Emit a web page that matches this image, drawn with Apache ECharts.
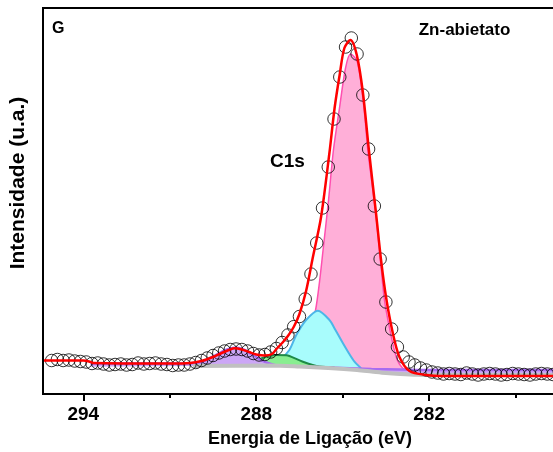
<!DOCTYPE html>
<html>
<head>
<meta charset="utf-8">
<script src="https://cdn.jsdelivr.net/npm/echarts@6/dist/echarts.min.js"></script>
<style>
  html, body { margin: 0; padding: 0; background: #fff; }
  #chart { width: 553px; height: 452px; }
</style>
</head>
<body>
<div id="chart"></div>
<script>
// energia de ligação (eV) dos pontos medidos
const bindingEnergy = [
  295.1, 294.9, 294.7, 294.5, 294.3, 294.1, 293.9, 293.7, 293.5, 293.3,
  293.1, 292.9, 292.7, 292.5, 292.3, 292.1, 291.9, 291.7, 291.5, 291.3,
  291.1, 290.9, 290.7, 290.5, 290.3, 290.1, 289.9, 289.7, 289.5, 289.3,
  289.1, 288.9, 288.7, 288.5, 288.3, 288.1, 287.9, 287.7, 287.5, 287.3,
  287.1, 286.9, 286.7, 286.5, 286.3, 286.1, 285.9, 285.7, 285.5, 285.3,
  285.1, 284.9, 284.7, 284.5, 284.3, 284.1, 283.9, 283.7, 283.5, 283.3,
  283.1, 282.9, 282.7, 282.5, 282.3, 282.1, 281.9, 281.7, 281.5, 281.3,
  281.1, 280.9, 280.7, 280.5, 280.3, 280.1, 279.9, 279.7, 279.5, 279.3,
  279.1, 278.9, 278.7, 278.5, 278.3, 278.1, 277.9, 277.7
];
// intensidade medida (u.a.)
const intensity = [
  33.5, 34.5, 33.5, 34, 33, 32.5, 32, 30.5, 31, 30,
  29, 29.5, 30, 29, 29.5, 31, 30, 30.5, 31, 30,
  29.5, 28.5, 29, 29, 30, 31.5, 33.5, 36, 38.5, 41,
  43, 44.5, 45, 44.5, 43, 40.5, 39, 39.5, 42, 45.5,
  51.5, 59, 67.3, 77.5, 95, 120, 151, 186, 227, 275,
  317, 347, 356, 340, 299, 245, 188, 135, 92, 65,
  47, 37, 32, 29, 26, 24, 22, 21, 20, 20.5,
  20, 19.5, 21, 20, 19, 20, 20.5, 20, 19, 19.5,
  20.5, 20, 19.5, 19, 20, 20.5, 20, 19.5
];

// envelope do ajuste [eV, intensidade]
const fitSum = [
  [295.4, 33.5], [294.0, 33.5], [293.8, 32.5], [293.65, 31], [291.0, 30.5], [290.3, 31],
  [289.9, 33], [289.5, 37], [289.2, 41], [288.95, 44], [288.75, 45.7], [288.5, 44.5],
  [288.25, 42], [288.0, 39.5], [287.7, 38.5], [287.45, 40], [287.3, 45], [287.1, 51],
  [286.9, 58], [286.7, 67], [286.5, 80], [286.27, 103], [286.04, 136], [285.75, 177],
  [285.46, 241], [285.28, 286], [285.1, 320], [284.94, 346], [284.73, 354], [284.51, 339],
  [284.30, 302], [284.09, 244], [283.84, 180], [283.66, 132], [283.49, 96], [283.26, 61],
  [283.03, 37], [282.68, 23], [282.10, 19], [281.5, 18], [277.5, 18]
];
// C-C / C-H (rosa)
const peakCC = [
  [286.98, 26], [286.64, 29], [286.36, 39], [286.15, 59], [285.94, 84], [285.80, 113],
  [285.68, 144], [285.49, 194], [285.32, 244], [285.11, 286], [284.90, 326], [284.73, 340],
  [284.49, 332], [284.26, 286], [284.12, 242], [283.86, 183], [283.67, 128], [283.55, 94],
  [283.38, 67], [283.14, 37], [282.92, 26], [282.68, 24]
];
// C-O (ciano)
const peakCO = [
  [287.54, 31], [287.13, 36], [286.85, 44], [286.61, 59], [286.27, 74], [285.86, 83.3],
  [285.46, 74], [285.25, 64], [284.99, 50.7], [284.79, 41], [284.59, 32.3], [284.36, 25.7]
];
// C=O (verde)
const peakCeqO = [
  [288.2, 28], [287.83, 35.7], [287.31, 39], [286.96, 38.7], [286.85, 38], [286.38, 32.3],
  [286.04, 29], [285.80, 27.5], [285.28, 26.5]
];
// O-C=O (lilás)
const peakOCeqO = [
  [293.75, 30.5], [292.0, 30.5], [290.5, 30.5], [290.0, 31.5], [289.7, 34.5], [289.4, 39],
  [289.1, 43.5], [288.9, 45.5], [288.75, 46.3], [288.6, 46], [288.4, 44], [288.2, 40.5],
  [288.0, 37], [287.8, 33.5], [287.6, 31], [287.3, 28.5], [287.0, 27.5], [286.0, 27],
  [285.0, 26], [284.0, 25], [283.0, 24.5], [282.0, 24], [277.5, 24]
];
// fundo (Shirley)
const background = [
  [290.2, 28], [287.5, 28.5], [286.5, 27.5], [285.5, 26], [284.5, 24], [284.0, 22.5],
  [283.5, 21], [283.0, 20], [282.4, 19.2], [281.8, 19], [277.5, 19]
];
const bgLeft = [[295.6, 27], [290.2, 28]];

const majorTicks = [294, 288, 282];
const minorTicks = [291, 285, 279];

const font = "'Liberation Sans', Arial, sans-serif";

const chart = echarts.init(document.getElementById('chart'));

function component(data, line, fill, width, z) {
  return {
    type: 'line',
    data: data,
    smooth: 0.3,
    symbol: 'none',
    z: z,
    lineStyle: { color: line, width: width },
    areaStyle: { color: fill, opacity: 1, origin: 'start' },
    animation: false
  };
}

const measured = bindingEnergy.map(function (e, i) { return [e, intensity[i]]; });

const option = {
  animation: false,
  grid: {
    left: 43, top: 8, right: -49, bottom: 58,
    show: true, borderColor: '#000', borderWidth: 2,
    outerBoundsMode: 'none'
  },
  xAxis: [
    {
      type: 'value', inverse: true, min: 276, max: 295.4,
      axisLine: { lineStyle: { color: '#000', width: 2 } },
      axisTick: { customValues: majorTicks, length: 7, lineStyle: { color: '#000', width: 2 } },
      axisLabel: {
        customValues: majorTicks, color: '#000', fontSize: 19, fontWeight: 'bold',
        fontFamily: font, margin: 11
      },
      splitLine: { show: false },
      z: 10
    },
    {
      type: 'value', inverse: true, min: 276, max: 295.4, position: 'bottom', offset: 0,
      axisLine: { show: false },
      axisTick: { customValues: minorTicks, length: 4, lineStyle: { color: '#000', width: 2 } },
      axisLabel: { show: false },
      splitLine: { show: false },
      z: 10
    }
  ],
  yAxis: {
    type: 'value', min: 0, max: 386,
    axisLine: { show: true, lineStyle: { color: '#000', width: 2 } },
    axisTick: { show: false },
    axisLabel: { show: false },
    splitLine: { show: false },
    z: 10
  },
  series: [
    component(peakCC, '#ff4fb0', '#ffafd8', 1.5, 2),
    component(peakCO, '#4db6e8', '#a8fcfc', 2, 3),
    component(peakCeqO, '#1e8a46', '#88ee90', 2, 4),
    component(peakOCeqO, '#a86cf0', '#cca6f6', 2.5, 5),
    {
      // máscara branca abaixo do fundo
      type: 'line', data: bgLeft.concat(background), symbol: 'none', z: 6,
      lineStyle: { opacity: 0 },
      areaStyle: { color: '#fff', opacity: 1, origin: 'start' }
    },
    {
      type: 'line', data: background, symbol: 'none', smooth: 0.3, z: 7,
      lineStyle: { color: '#c0c0c0', width: 4 }
    },
    {
      type: 'scatter', data: measured, symbol: 'circle', symbolSize: 12.5, z: 8,
      itemStyle: { color: 'rgba(0,0,0,0)', borderColor: '#000', borderWidth: 1 }
    },
    {
      type: 'line', data: fitSum, symbol: 'none', smooth: 0.3, z: 9,
      lineStyle: { color: '#ff0000', width: 2.5 }
    }
  ],
  graphic: [
    { type: 'text', x: 52, y: 29, style: { text: 'G', fontSize: 16, fontWeight: 'bold', fontFamily: font, fill: '#000', textAlign: 'left', textVerticalAlign: 'middle' } },
    { type: 'text', x: 464.5, y: 30, style: { text: 'Zn-abietato', fontSize: 17, fontWeight: 'bold', fontFamily: font, fill: '#000', textAlign: 'center', textVerticalAlign: 'middle' } },
    { type: 'text', x: 287.5, y: 162, style: { text: 'C1s', fontSize: 19, fontWeight: 'bold', fontFamily: font, fill: '#000', textAlign: 'center', textVerticalAlign: 'middle' } },
    { type: 'text', x: 310, y: 439, style: { text: 'Energia de Ligação (eV)', fontSize: 18, fontWeight: 'bold', fontFamily: font, fill: '#000', textAlign: 'center', textVerticalAlign: 'middle' } },
    { type: 'text', x: 18, y: 183, rotation: Math.PI / 2, style: { text: 'Intensidade (u.a.)', fontSize: 21, fontWeight: 'bold', fontFamily: font, fill: '#000', textAlign: 'center', textVerticalAlign: 'middle' } }
  ]
};

chart.setOption(option);
</script>
</body>
</html>
